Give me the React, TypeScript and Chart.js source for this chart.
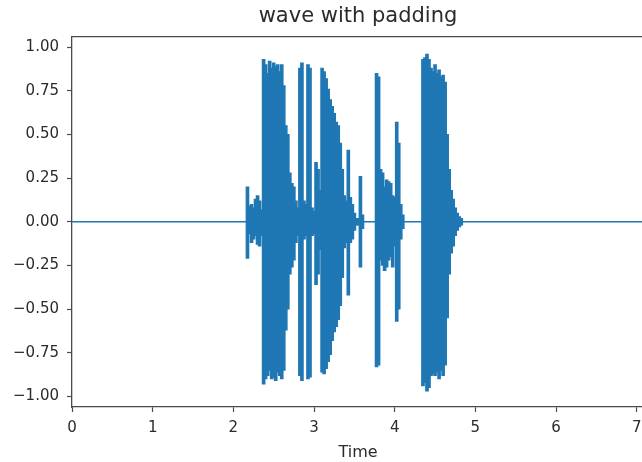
import React, { useEffect, useRef } from "react";
import { Chart, registerables } from "chart.js";

Chart.register(...registerables);

const TITLE = "wave with padding";
const X_LABEL = "Time";
const X_TICKS = [0, 1, 2, 3, 4, 5, 6, 7];
const Y_TICKS = [-1, -0.75, -0.5, -0.25, 0, 0.25, 0.5, 0.75, 1];
const X_MIN = 0;
const X_MAX = 7.09;
const Y_MIN = -1.06;
const Y_MAX = 1.062;

// zero padding (silence) before and after the speech
const PAD_TIMES = [0, 7.1];
const PAD_VALUES = [0, 0];

// waveform envelope (seconds, max, min)
const WAVE_TIMES = [
  2.175, 2.2, 2.225, 2.25, 2.275, 2.3, 2.325, 2.35, 2.375, 2.4,
  2.425, 2.45, 2.475, 2.5, 2.525, 2.55, 2.575, 2.6, 2.625, 2.65,
  2.675, 2.7, 2.725, 2.75, 2.775, 2.8, 2.825, 2.85, 2.875, 2.9,
  2.925, 2.95, 2.975, 3.0, 3.025, 3.05, 3.075, 3.1, 3.125, 3.15,
  3.175, 3.2, 3.225, 3.25, 3.275, 3.3, 3.325, 3.35, 3.375, 3.4,
  3.425, 3.45, 3.475, 3.5, 3.525, 3.55, 3.575, 3.6,
  3.775, 3.8, 3.825, 3.85, 3.875, 3.9, 3.925, 3.95, 3.975, 4.0,
  4.025, 4.05, 4.075, 4.1,
  4.35, 4.375, 4.4, 4.425, 4.45, 4.475, 4.5, 4.525, 4.55, 4.575,
  4.6, 4.625, 4.65, 4.675, 4.7, 4.725, 4.75, 4.775, 4.8, 4.825,
];
const WAVE_MAX = [
  0.2, 0.09, 0.1, 0.08, 0.13, 0.15, 0.12, 0.07, 0.93, 0.9,
  0.85, 0.92, 0.88, 0.91, 0.89, 0.9, 0.86, 0.9, 0.78, 0.55,
  0.5, 0.28, 0.22, 0.2, 0.12, 0.08, 0.88, 0.91, 0.12, 0.1,
  0.9, 0.88, 0.08, 0.06, 0.34, 0.3, 0.18, 0.88, 0.86, 0.82,
  0.76, 0.7, 0.66, 0.62, 0.57, 0.55, 0.45, 0.3, 0.15, 0.12,
  0.41, 0.14, 0.1, 0.05, 0.02, 0.02, 0.26, 0.04,
  0.85, 0.83, 0.3, 0.28, 0.2, 0.24, 0.23, 0.22, 0.15, 0.14,
  0.57, 0.45, 0.1, 0.04,
  0.93, 0.94, 0.96, 0.93, 0.88, 0.86, 0.9, 0.85, 0.87, 0.83,
  0.84, 0.8, 0.5, 0.3, 0.18, 0.13, 0.08, 0.05, 0.03, 0.02,
];
const WAVE_MIN = [
  -0.21, -0.07, -0.12, -0.1, -0.08, -0.13, -0.14, -0.08, -0.93, -0.9,
  -0.88, -0.85, -0.9, -0.89, -0.91, -0.86, -0.88, -0.9, -0.85, -0.62,
  -0.5, -0.3, -0.26, -0.22, -0.12, -0.08, -0.88, -0.91, -0.1, -0.08,
  -0.9, -0.89, -0.08, -0.07, -0.36, -0.3, -0.16, -0.86, -0.87, -0.84,
  -0.8, -0.76, -0.68, -0.63, -0.6, -0.56, -0.48, -0.32, -0.15, -0.12,
  -0.42, -0.12, -0.1, -0.05, -0.02, -0.02, -0.26, -0.04,
  -0.83, -0.82, -0.22, -0.25, -0.28, -0.26, -0.22, -0.2, -0.26, -0.14,
  -0.57, -0.5, -0.1, -0.04,
  -0.94, -0.92, -0.97, -0.95, -0.88, -0.87, -0.88, -0.86, -0.9, -0.85,
  -0.88, -0.82, -0.55, -0.3, -0.18, -0.14, -0.08, -0.05, -0.03, -0.02,
];

const BLUE = "#1f77b4";
const AXIS = "#4a4a4a";
const TEXT = "#2b2b2b";
const FONT = "'DejaVu Sans', sans-serif";

const fmt = (v: number) => {
  const s = Math.abs(v).toFixed(2);
  return v < 0 ? "\u2212" + s : s;
};

export default function App() {
  const ref = useRef<HTMLCanvasElement | null>(null);

  useEffect(() => {
    const canvas = ref.current;
    if (!canvas) return;
    const chart = new Chart(canvas, {
      type: "bar",
      data: {
        datasets: [
          {
            type: "line",
            data: PAD_TIMES.map((t, i) => ({ x: t, y: PAD_VALUES[i] })),
            borderColor: BLUE,
            borderWidth: 1.5,
            pointRadius: 0,
            fill: false,
            xAxisID: "x",
            yAxisID: "y",
          } as any,
          {
            type: "bar",
            data: WAVE_TIMES.map((t, i) => ({ x: t, y: [WAVE_MIN[i], WAVE_MAX[i]] })),
            backgroundColor: BLUE,
            borderWidth: 0,
            barThickness: 3,
            grouped: false,
            xAxisID: "x",
            yAxisID: "y",
          } as any,
        ],
      },
      options: {
        responsive: false,
        animation: false,
        devicePixelRatio: 1,
        layout: { padding: { left: 0, right: 6, top: 0, bottom: 0 } },
        plugins: {
          legend: { display: false },
          tooltip: { enabled: false },
          title: {
            display: true,
            text: TITLE,
            fullSize: false,
            color: TEXT,
            font: { family: FONT, size: 21, weight: "normal" },
            padding: { top: 4, bottom: 7 },
          },
        },
        scales: {
          x: {
            type: "linear",
            position: "bottom",
            min: X_MIN,
            max: X_MAX,
            offset: false,
            afterBuildTicks: (s: any) => {
              s.ticks = X_TICKS.map((v) => ({ value: v }));
            },
            afterFit: (s: any) => {
              s.height = 55;
            },
            ticks: {
              color: TEXT,
              font: { family: FONT, size: 15 },
              padding: 7,
              maxRotation: 0,
              autoSkip: false,
              callback: (v: any) => String(v),
            },
            grid: {
              display: true,
              drawOnChartArea: false,
              drawTicks: true,
              tickLength: 5,
              tickWidth: 1.2,
              color: AXIS,
              offset: false,
            },
            border: { display: true, color: AXIS, width: 1.3 },
            title: {
              display: true,
              text: X_LABEL,
              color: TEXT,
              font: { family: FONT, size: 16 },
              padding: { top: 0, bottom: 0 },
            },
          },
          xTop: {
            type: "linear",
            position: "top",
            min: X_MIN,
            max: X_MAX,
            afterFit: (s: any) => {
              s.height = 0;
            },
            ticks: { display: false },
            grid: { display: false },
            border: { display: true, color: AXIS, width: 1.3 },
          },
          y: {
            type: "linear",
            position: "left",
            min: Y_MIN,
            max: Y_MAX,
            afterBuildTicks: (s: any) => {
              s.ticks = Y_TICKS.map((v) => ({ value: v }));
            },
            afterFit: (s: any) => {
              s.width = 72;
            },
            ticks: {
              color: TEXT,
              font: { family: FONT, size: 15 },
              padding: 8,
              autoSkip: false,
              callback: (v: any) => fmt(Number(v)),
            },
            grid: {
              display: true,
              drawOnChartArea: false,
              drawTicks: true,
              tickLength: 5,
              tickWidth: 1.2,
              color: AXIS,
            },
            border: { display: true, color: AXIS, width: 1.3 },
          },
        },
      } as any,
    });
    return () => chart.destroy();
  }, []);

  return (
    <div
      style={{
        position: "fixed",
        left: 0,
        top: 0,
        width: 642,
        height: 462,
        overflow: "hidden",
        background: "#ffffff",
      }}
    >
      <canvas ref={ref} width={650} height={462} style={{ display: "block" }} />
    </div>
  );
}
